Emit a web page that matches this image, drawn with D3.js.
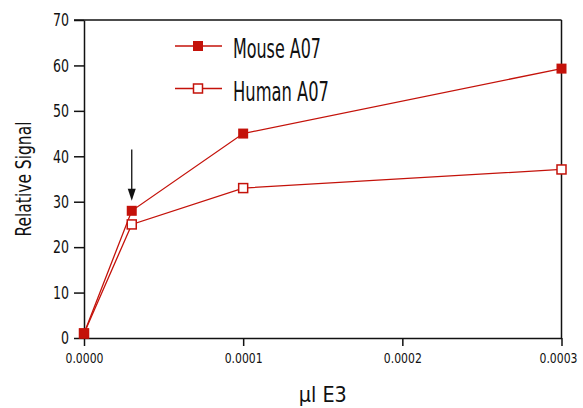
<!DOCTYPE html>
<html>
<head>
<meta charset="utf-8">
<script src="https://cdn.jsdelivr.net/npm/d3@7/dist/d3.min.js"></script>
<style>
  html, body { margin: 0; padding: 0; background: #fff; }
  svg { display: block; }
  text { font-family: "Liberation Sans Narrow", "DejaVu Sans Condensed", "Liberation Sans", sans-serif; fill: #111; }
</style>
</head>
<body>
<svg id="chart" width="583" height="408"></svg>
<script>
const xValues = [0, 0.00003, 0.0001, 0.0003];
const mouseValues = [1, 28, 45, 59.3];
const humanValues = [1, 25, 33, 37.1];
const xTicks = [0, 0.0001, 0.0002, 0.0003];
const yTicks = [0, 10, 20, 30, 40, 50, 60, 70];
const seriesNames = ["Mouse A07", "Human A07"];
const arrowAt = { x: 0.00003, from: 41.5, to: 30.2 };

const W = 583, H = 408;
const m = { left: 84, right: 21.5, top: 20, bottom: 70 };
const red = "#c4120a";

const svg = d3.select("#chart");
const x = d3.scaleLinear().domain([0, 0.0003]).range([m.left, W - m.right]);
const y = d3.scaleLinear().domain([0, 70]).range([H - m.bottom, m.top]);

// frame: top and right lines
svg.append("line").attr("x1", m.left - 10).attr("x2", W - m.right)
  .attr("y1", m.top).attr("y2", m.top).attr("stroke", "#111").attr("stroke-width", 1.5);
svg.append("line").attr("x1", W - m.right).attr("x2", W - m.right)
  .attr("y1", m.top).attr("y2", H - m.bottom).attr("stroke", "#111").attr("stroke-width", 1.5);

const yAxis = svg.append("g").attr("transform", `translate(${m.left},0)`)
  .call(d3.axisLeft(y).tickValues(yTicks).tickFormat(d3.format("d")).tickSize(10).tickPadding(5).tickSizeOuter(0));
const xAxis = svg.append("g").attr("transform", `translate(0,${H - m.bottom})`)
  .call(d3.axisBottom(x).tickValues(xTicks).tickFormat(d3.format(".4f")).tickSize(8).tickPadding(7).tickSizeOuter(0));

[yAxis, xAxis].forEach(a => {
  a.selectAll(".domain").attr("stroke", "#111").attr("stroke-width", 1.5);
  a.selectAll(".tick line").attr("stroke", "#111").attr("stroke-width", 1.5);
});
yAxis.selectAll(".tick text").style("font-size", "18px").attr("fill", "#111")
  .attr("textLength", d => String(d).length * 8).attr("lengthAdjust", "spacingAndGlyphs");
xAxis.selectAll(".tick text").style("font-size", "13.5px").attr("fill", "#111")
  .attr("textLength", 38).attr("lengthAdjust", "spacingAndGlyphs")
  .attr("dx", (d, i, n) => i === n.length - 1 ? -3.5 : 0);

// axis titles
svg.append("text").attr("x", (m.left + W - m.right) / 2).attr("y", 402)
  .attr("text-anchor", "middle").style("font-size", "21px")
  .attr("textLength", 48).attr("lengthAdjust", "spacingAndGlyphs").text("µl E3");
svg.append("text").attr("transform", `translate(31,${(m.top + H - m.bottom) / 2}) rotate(-90)`)
  .attr("text-anchor", "middle").style("font-size", "21px")
  .attr("textLength", 115).attr("lengthAdjust", "spacingAndGlyphs").text("Relative Signal");

const line = d3.line().x(d => x(d[0])).y(d => y(d[1]));
const mouse = xValues.map((v, i) => [v, mouseValues[i]]);
const human = xValues.map((v, i) => [v, humanValues[i]]);

svg.append("path").datum(human).attr("d", line).attr("fill", "none").attr("stroke", red).attr("stroke-width", 1.3);
svg.append("path").datum(mouse).attr("d", line).attr("fill", "none").attr("stroke", red).attr("stroke-width", 1.3);

const s = 10;
svg.selectAll(".hm").data(human).enter().append("rect")
  .attr("x", d => x(d[0]) - s / 2 + 0.5).attr("y", d => y(d[1]) - s / 2 + 0.5)
  .attr("width", s - 1).attr("height", s - 1).attr("fill", "#fff").attr("stroke", red).attr("stroke-width", 1.5);
svg.selectAll(".mm").data(mouse).enter().append("rect")
  .attr("x", d => x(d[0]) - s / 2).attr("y", d => y(d[1]) - s / 2)
  .attr("width", s).attr("height", s).attr("fill", red);

// arrow annotation
svg.append("line").attr("x1", x(arrowAt.x)).attr("x2", x(arrowAt.x))
  .attr("y1", y(arrowAt.from)).attr("y2", y(arrowAt.to) - 10).attr("stroke", "#111").attr("stroke-width", 1.3);
svg.append("path")
  .attr("d", `M${x(arrowAt.x) - 4},${y(arrowAt.to) - 12} L${x(arrowAt.x) + 4},${y(arrowAt.to) - 12} L${x(arrowAt.x)},${y(arrowAt.to)} Z`)
  .attr("fill", "#111");

// legend
const lg = [{ name: seriesNames[0], filled: true, yy: 46 }, { name: seriesNames[1], filled: false, yy: 88.5 }];
lg.forEach(l => {
  svg.append("line").attr("x1", 175).attr("x2", 222).attr("y1", l.yy).attr("y2", l.yy)
    .attr("stroke", red).attr("stroke-width", 1.3);
  if (l.filled) {
    svg.append("rect").attr("x", 198 - s / 2).attr("y", l.yy - s / 2).attr("width", s).attr("height", s).attr("fill", red);
  } else {
    svg.append("rect").attr("x", 198 - s / 2 + 0.5).attr("y", l.yy - s / 2 + 0.5).attr("width", s - 1).attr("height", s - 1)
      .attr("fill", "#fff").attr("stroke", red).attr("stroke-width", 1.5);
  }
  svg.append("text").attr("x", 233).attr("y", l.yy + 12).style("font-size", "27px")
    .attr("textLength", l.filled ? 88 : 96).attr("lengthAdjust", "spacingAndGlyphs").text(l.name);
});
</script>
</body>
</html>
